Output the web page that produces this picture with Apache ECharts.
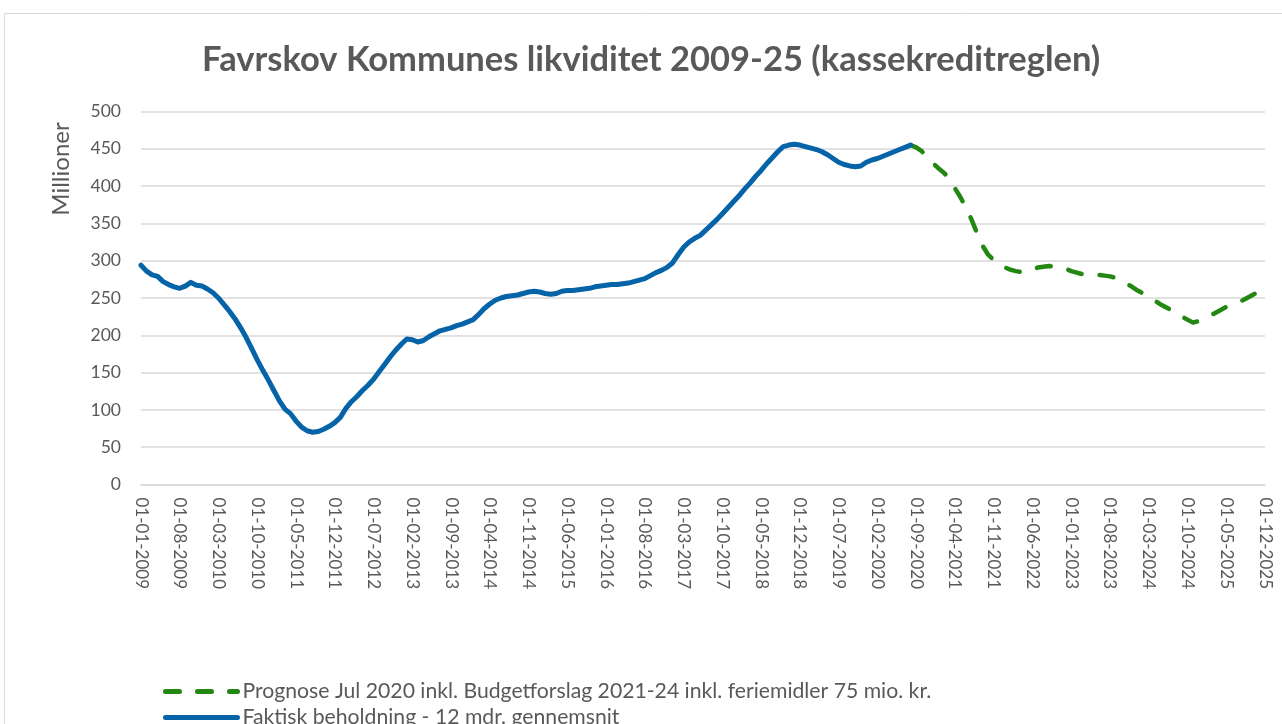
<!DOCTYPE html>
<html>
	<head>
		<meta charset="utf-8">
		<title>Favrskov likviditet</title>
		<style type="text/css">
			body{ margin:0; background:#fff; }
			#main{
				width: 1282px;
				height: 724px;
			}
		</style>
	</head>
	<body>
		<div id="main"></div>
	</body>
<script src="https://cdn.jsdelivr.net/npm/echarts@6/dist/echarts.min.js" type="text/javascript" charset="utf-8"></script>
<script type="text/javascript">
	// maaneder 01-01-2009 .. 01-12-2025 (204 stk)
	var firstYear = 2009
	var lastYear = 2025
	var months = []
	for (var y = firstYear; y <= lastYear; y++) {
		for (var m = 1; m <= 12; m++) {
			months.push('01-' + (m < 10 ? '0' + m : m) + '-' + y)
		}
	}

	// Faktisk beholdning - 12 mdr. gennemsnit (mio. kr.), 01-01-2009 .. 01-08-2020
	var faktisk = [
		294, 286, 281, 279, 272, 268, 265, 263, 266, 271, 267, 266,
		262, 257, 250, 241, 232, 222, 210, 197, 182, 167, 153, 140,
		126, 112, 101, 95, 85, 77, 72, 70, 71, 74, 78, 83,
		90, 102, 111, 118, 126, 133, 141, 151, 161, 171, 180, 188,
		195, 194, 191, 193, 198, 202, 206, 208, 210, 213, 215, 218,
		221, 228, 236, 242, 247, 250, 252, 253, 254, 256, 258, 259,
		258, 256, 255, 256, 259, 260, 260, 261, 262, 263, 265, 266,
		267, 268, 268, 269, 270, 272, 274, 276, 280, 284, 287, 291,
		297, 308, 318, 325, 330, 334, 341, 348, 355, 363, 371, 379,
		387, 396, 404, 413, 421, 430, 438, 446, 453, 455, 456, 455,
		453, 451, 449, 446, 442, 437, 432, 429, 427, 426, 427, 432,
		435, 437, 440, 443, 446, 449, 452, 455
	]

	// Prognose, 01-08-2020 .. 01-12-2025
	var prognose = [
		455, 452, 447, 438, 431, 424, 418, 410, 397, 385, 371, 355,
		337, 320, 308, 301, 296, 291, 288, 286, 285, 285, 288, 291,
		292, 293, 292, 291, 289, 286, 284, 282, 281, 281, 281, 280,
		279, 277, 273, 269, 265, 260, 256, 252, 247, 242, 238, 234,
		229, 225, 221, 217, 219, 222, 226, 230, 234, 238, 241, 244,
		247, 251, 255, 259, 262
	]

	var prognoseStart = months.length - prognose.length
	var prognoseData = []
	for (var i = 0; i < months.length; i++) {
		prognoseData.push(i < prognoseStart ? null : prognose[i - prognoseStart])
	}

	var yTicks = [0, 50, 100, 150, 200, 250, 300, 350, 400, 450, 500]

	var navnFaktisk = 'Faktisk beholdning - 12 mdr. gennemsnit'
	var navnPrognose = 'Prognose Jul 2020 inkl. Budgetforslag 2021-24 inkl. feriemidler 75 mio. kr.'

	var txtColor = '#595959'
	var fontName = 'Lato'

	var myChart = echarts.init(document.getElementById('main'))

	var option = {
		backgroundColor: '#fff',
		animation: false,
		title: {
			text: 'Favrskov Kommunes likviditet 2009-25 (kassekreditreglen)',
			left: 202,
			top: 42,
			padding: 0,
			textStyle: {
				color: txtColor,
				fontFamily: fontName,
				fontWeight: 'bold',
				fontSize: 34.5
			}
		},
		graphic: [
			{
				// ramme om diagrammet
				type: 'rect',
				shape: { x: 4.5, y: 13.5, width: 1300, height: 760 },
				style: { fill: null, stroke: '#d9d9d9', lineWidth: 1 },
				silent: true
			},
			{
				type: 'text',
				x: 61,
				y: 169,
				rotation: Math.PI / 2,
				style: {
					text: 'Millioner',
					fill: txtColor,
					font: '24px ' + fontName,
					align: 'center',
					verticalAlign: 'middle'
				}
			}
		],
		legend: {
			orient: 'vertical',
			left: 163,
			top: 681,
			height: 120,
			padding: 0,
			itemWidth: 72,
			itemHeight: 14,
			itemGap: 5,
			data: [navnPrognose, navnFaktisk],
			itemStyle: { opacity: 0 },
			lineStyle: { width: 5 },
			textStyle: { color: txtColor, fontFamily: fontName, fontSize: 21.2, lineHeight: 20 }
		},
		grid: {
			left: 141,
			right: 17,
			top: 111.5,
			bottom: 239.5
		},
		xAxis: {
			type: 'category',
			boundaryGap: false,
			data: months,
			axisLine: { lineStyle: { color: '#d9d9d9', width: 1.5 } },
			axisTick: { show: false },
			axisLabel: {
				interval: 6,
				rotate: -90,
				margin: 13,
				color: txtColor,
				fontFamily: fontName,
				fontSize: 17
			}
		},
		yAxis: {
			type: 'value',
			min: yTicks[0],
			max: yTicks[yTicks.length - 1],
			interval: 50,
			axisLine: { show: false },
			axisTick: { show: false },
			splitLine: { lineStyle: { color: '#d9d9d9', width: 1.5 } },
			axisLabel: {
				margin: 20,
				color: txtColor,
				fontFamily: fontName,
				fontSize: 17.5
			}
		},
		series: [
			{
				name: navnPrognose,
				type: 'line',
				data: prognoseData,
				showSymbol: false,
				symbol: 'none',
				color: '#228812',
				lineStyle: { width: 4.5, type: [14, 18], cap: 'round', join: 'round' },
				z: 2
			},
			{
				name: navnFaktisk,
				type: 'line',
				data: faktisk,
				showSymbol: false,
				symbol: 'none',
				color: '#0563A8',
				lineStyle: { width: 5, cap: 'round', join: 'round' },
				z: 3
			}
		]
	}

	myChart.setOption(option)
</script>
</html>
